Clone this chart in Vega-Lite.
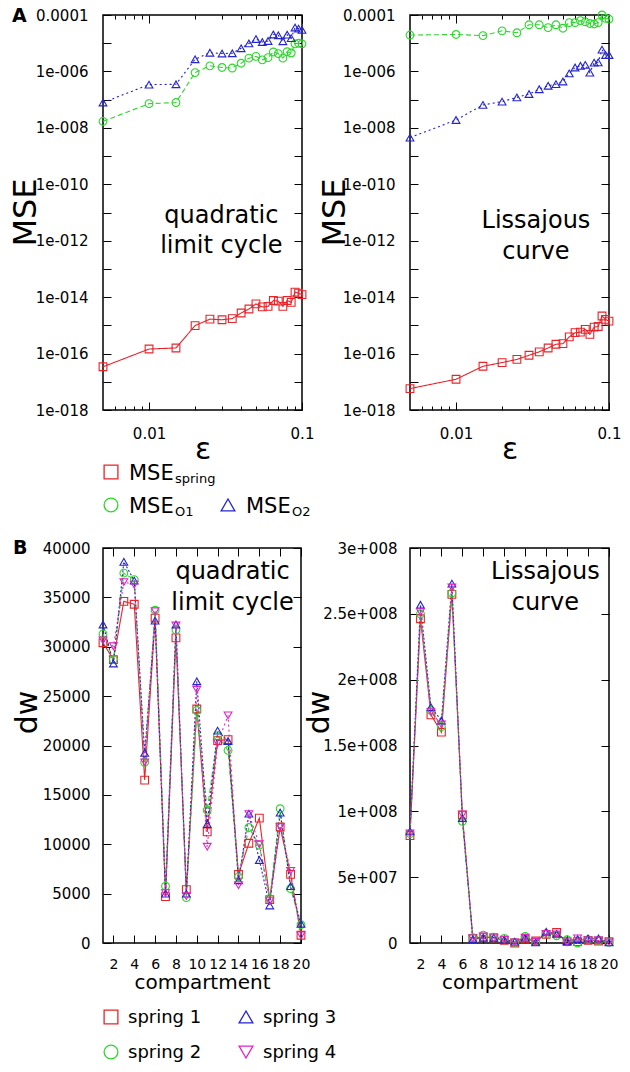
{
"$schema": "https://vega.github.io/schema/vega-lite/v6.json",
"background": "white",
"padding": {"left": 8, "top": 6, "right": 2, "bottom": 2},
"columns": 2,
"spacing": {"row": 30, "column": 108},
"bounds": "flush",
"resolve": {
 "scale": {"color": "independent", "stroke": "independent", "shape": "independent", "strokeDash": "independent"},
 "legend": {"color": "independent", "stroke": "independent", "shape": "independent", "strokeDash": "independent"}
},
"config": {
 "font": "DejaVu Sans",
 "view": {"stroke": "black", "strokeWidth": 1.5},
 "point": {"opacity": 1},
 "axis": {"labelFont": "DejaVu Sans", "labelFontSize": 15, "labelColor": "black", "tickColor": "black", "tickWidth": 1, "titleFont": "DejaVu Sans", "titleFontWeight": "normal", "titleColor": "black", "grid": false, "domain": false, "labelFlush": false, "labelOverlap": false},
 "title": {"font": "DejaVu Sans", "color": "black"},
 "text": {"font": "DejaVu Sans"}
},
"datasets": {
 "quadA": [
  {"eps":0.005,"series":"spring","mse":3.4e-17},{"eps":0.01,"series":"spring","mse":1.45e-16},{"eps":0.015,"series":"spring","mse":1.58e-16},{"eps":0.02,"series":"spring","mse":9.8e-16},{"eps":0.025,"series":"spring","mse":1.66e-15},{"eps":0.03,"series":"spring","mse":1.58e-15},{"eps":0.035,"series":"spring","mse":1.74e-15},{"eps":0.04,"series":"spring","mse":2.75e-15},{"eps":0.045,"series":"spring","mse":3.8e-15},{"eps":0.05,"series":"spring","mse":5.75e-15},{"eps":0.055,"series":"spring","mse":4.5e-15},{"eps":0.06,"series":"spring","mse":4.7e-15},{"eps":0.065,"series":"spring","mse":7.6e-15},{"eps":0.07,"series":"spring","mse":7.2e-15},{"eps":0.075,"series":"spring","mse":4.7e-15},{"eps":0.08,"series":"spring","mse":7.6e-15},{"eps":0.085,"series":"spring","mse":6.5e-15},{"eps":0.09,"series":"spring","mse":1.51e-14},{"eps":0.095,"series":"spring","mse":1.38e-14},{"eps":0.1,"series":"spring","mse":1.23e-14},
  {"eps":0.005,"series":"O1","mse":1.7e-8},{"eps":0.01,"series":"O1","mse":7.2e-8},{"eps":0.015,"series":"O1","mse":7.9e-8},{"eps":0.02,"series":"O1","mse":9.1e-7},{"eps":0.025,"series":"O1","mse":1.58e-6},{"eps":0.03,"series":"O1","mse":1.38e-6},{"eps":0.035,"series":"O1","mse":1.32e-6},{"eps":0.04,"series":"O1","mse":1.95e-6},{"eps":0.045,"series":"O1","mse":2.95e-6},{"eps":0.05,"series":"O1","mse":3.4e-6},{"eps":0.055,"series":"O1","mse":2.57e-6},{"eps":0.06,"series":"O1","mse":3.1e-6},{"eps":0.065,"series":"O1","mse":4.9e-6},{"eps":0.07,"series":"O1","mse":4.3e-6},{"eps":0.075,"series":"O1","mse":2.95e-6},{"eps":0.08,"series":"O1","mse":5.0e-6},{"eps":0.085,"series":"O1","mse":4.5e-6},{"eps":0.09,"series":"O1","mse":9.5e-6},{"eps":0.095,"series":"O1","mse":1.0e-5},{"eps":0.1,"series":"O1","mse":9.5e-6},
  {"eps":0.005,"series":"O2","mse":7.9e-8},{"eps":0.01,"series":"O2","mse":3.4e-7},{"eps":0.015,"series":"O2","mse":3.5e-7},{"eps":0.02,"series":"O2","mse":2.7e-6},{"eps":0.025,"series":"O2","mse":4.6e-6},{"eps":0.03,"series":"O2","mse":4.3e-6},{"eps":0.035,"series":"O2","mse":4.4e-6},{"eps":0.04,"series":"O2","mse":6.6e-6},{"eps":0.045,"series":"O2","mse":9.8e-6},{"eps":0.05,"series":"O2","mse":1.41e-5},{"eps":0.055,"series":"O2","mse":1.1e-5},{"eps":0.06,"series":"O2","mse":1.2e-5},{"eps":0.065,"series":"O2","mse":2.04e-5},{"eps":0.07,"series":"O2","mse":1.91e-5},{"eps":0.075,"series":"O2","mse":1.17e-5},{"eps":0.08,"series":"O2","mse":2.0e-5},{"eps":0.085,"series":"O2","mse":1.51e-5},{"eps":0.09,"series":"O2","mse":3.6e-5},{"eps":0.095,"series":"O2","mse":3.3e-5},{"eps":0.1,"series":"O2","mse":2.95e-5}
 ],
 "lissA": [
  {"eps":0.005,"series":"spring","mse":5.75e-18},{"eps":0.01,"series":"spring","mse":1.23e-17},{"eps":0.015,"series":"spring","mse":3.55e-17},{"eps":0.02,"series":"spring","mse":4.8e-17},{"eps":0.025,"series":"spring","mse":6.2e-17},{"eps":0.03,"series":"spring","mse":8.7e-17},{"eps":0.035,"series":"spring","mse":1.15e-16},{"eps":0.04,"series":"spring","mse":1.58e-16},{"eps":0.045,"series":"spring","mse":2.14e-16},{"eps":0.05,"series":"spring","mse":2.24e-16},{"eps":0.055,"series":"spring","mse":3.9e-16},{"eps":0.06,"series":"spring","mse":5.5e-16},{"eps":0.065,"series":"spring","mse":5.75e-16},{"eps":0.07,"series":"spring","mse":7.2e-16},{"eps":0.075,"series":"spring","mse":4.8e-16},{"eps":0.08,"series":"spring","mse":8.7e-16},{"eps":0.085,"series":"spring","mse":9.1e-16},{"eps":0.09,"series":"spring","mse":2.14e-15},{"eps":0.095,"series":"spring","mse":1.62e-15},{"eps":0.1,"series":"spring","mse":1.41e-15},
  {"eps":0.005,"series":"O1","mse":1.95e-5},{"eps":0.01,"series":"O1","mse":2.04e-5},{"eps":0.015,"series":"O1","mse":1.86e-5},{"eps":0.02,"series":"O1","mse":2.75e-5},{"eps":0.025,"series":"O1","mse":2.34e-5},{"eps":0.03,"series":"O1","mse":4.5e-5},{"eps":0.035,"series":"O1","mse":4.5e-5},{"eps":0.04,"series":"O1","mse":3.55e-5},{"eps":0.045,"series":"O1","mse":4.5e-5},{"eps":0.05,"series":"O1","mse":3.4e-5},{"eps":0.055,"series":"O1","mse":5.4e-5},{"eps":0.06,"series":"O1","mse":5.4e-5},{"eps":0.065,"series":"O1","mse":6.3e-5},{"eps":0.07,"series":"O1","mse":5.75e-5},{"eps":0.075,"series":"O1","mse":5.0e-5},{"eps":0.08,"series":"O1","mse":4.8e-5},{"eps":0.085,"series":"O1","mse":5.4e-5},{"eps":0.09,"series":"O1","mse":1.0e-4},{"eps":0.095,"series":"O1","mse":7.6e-5},{"eps":0.1,"series":"O1","mse":7.1e-5},
  {"eps":0.005,"series":"O2","mse":4.5e-9},{"eps":0.01,"series":"O2","mse":1.9e-8},{"eps":0.015,"series":"O2","mse":6.5e-8},{"eps":0.02,"series":"O2","mse":8.5e-8},{"eps":0.025,"series":"O2","mse":1.2e-7},{"eps":0.03,"series":"O2","mse":1.58e-7},{"eps":0.035,"series":"O2","mse":2.34e-7},{"eps":0.04,"series":"O2","mse":3.1e-7},{"eps":0.045,"series":"O2","mse":3.55e-7},{"eps":0.05,"series":"O2","mse":4.4e-7},{"eps":0.055,"series":"O2","mse":8.5e-7},{"eps":0.06,"series":"O2","mse":1.38e-6},{"eps":0.065,"series":"O2","mse":1.58e-6},{"eps":0.07,"series":"O2","mse":1.7e-6},{"eps":0.075,"series":"O2","mse":9.1e-7},{"eps":0.08,"series":"O2","mse":2.04e-6},{"eps":0.085,"series":"O2","mse":2.1e-6},{"eps":0.09,"series":"O2","mse":5.9e-6},{"eps":0.095,"series":"O2","mse":3.8e-6},{"eps":0.1,"series":"O2","mse":3.8e-6}
 ],
 "quadB": [
  {"c":1,"spring":"spring 1","dw":30400},{"c":2,"spring":"spring 1","dw":28700},{"c":3,"spring":"spring 1","dw":34600},{"c":4,"spring":"spring 1","dw":34300},{"c":5,"spring":"spring 1","dw":16500},{"c":6,"spring":"spring 1","dw":32900},{"c":7,"spring":"spring 1","dw":4700},{"c":8,"spring":"spring 1","dw":30900},{"c":9,"spring":"spring 1","dw":5400},{"c":10,"spring":"spring 1","dw":23700},{"c":11,"spring":"spring 1","dw":11250},{"c":12,"spring":"spring 1","dw":20500},{"c":13,"spring":"spring 1","dw":20600},{"c":14,"spring":"spring 1","dw":6950},{"c":15,"spring":"spring 1","dw":10100},{"c":16,"spring":"spring 1","dw":12650},{"c":17,"spring":"spring 1","dw":4400},{"c":18,"spring":"spring 1","dw":11750},{"c":19,"spring":"spring 1","dw":6950},{"c":20,"spring":"spring 1","dw":780},
  {"c":1,"spring":"spring 2","dw":31300},{"c":2,"spring":"spring 2","dw":28700},{"c":3,"spring":"spring 2","dw":37450},{"c":4,"spring":"spring 2","dw":36800},{"c":5,"spring":"spring 2","dw":18300},{"c":6,"spring":"spring 2","dw":33700},{"c":7,"spring":"spring 2","dw":5750},{"c":8,"spring":"spring 2","dw":31700},{"c":9,"spring":"spring 2","dw":4600},{"c":10,"spring":"spring 2","dw":23550},{"c":11,"spring":"spring 2","dw":13450},{"c":12,"spring":"spring 2","dw":21000},{"c":13,"spring":"spring 2","dw":19500},{"c":14,"spring":"spring 2","dw":6700},{"c":15,"spring":"spring 2","dw":11700},{"c":16,"spring":"spring 2","dw":9900},{"c":17,"spring":"spring 2","dw":4500},{"c":18,"spring":"spring 2","dw":13600},{"c":19,"spring":"spring 2","dw":5500},{"c":20,"spring":"spring 2","dw":1850},
  {"c":1,"spring":"spring 3","dw":32250},{"c":2,"spring":"spring 3","dw":28300},{"c":3,"spring":"spring 3","dw":38600},{"c":4,"spring":"spring 3","dw":36700},{"c":5,"spring":"spring 3","dw":19250},{"c":6,"spring":"spring 3","dw":32650},{"c":7,"spring":"spring 3","dw":5000},{"c":8,"spring":"spring 3","dw":32250},{"c":9,"spring":"spring 3","dw":5000},{"c":10,"spring":"spring 3","dw":26500},{"c":11,"spring":"spring 3","dw":12050},{"c":12,"spring":"spring 3","dw":21500},{"c":13,"spring":"spring 3","dw":20450},{"c":14,"spring":"spring 3","dw":6350},{"c":15,"spring":"spring 3","dw":13100},{"c":16,"spring":"spring 3","dw":8400},{"c":17,"spring":"spring 3","dw":3800},{"c":18,"spring":"spring 3","dw":13200},{"c":19,"spring":"spring 3","dw":5750},{"c":20,"spring":"spring 3","dw":1950},
  {"c":1,"spring":"spring 4","dw":30650},{"c":2,"spring":"spring 4","dw":30050},{"c":3,"spring":"spring 4","dw":36550},{"c":4,"spring":"spring 4","dw":36300},{"c":5,"spring":"spring 4","dw":18300},{"c":6,"spring":"spring 4","dw":33600},{"c":7,"spring":"spring 4","dw":5050},{"c":8,"spring":"spring 4","dw":32150},{"c":9,"spring":"spring 4","dw":4750},{"c":10,"spring":"spring 4","dw":25650},{"c":11,"spring":"spring 4","dw":9750},{"c":12,"spring":"spring 4","dw":20250},{"c":13,"spring":"spring 4","dw":23050},{"c":14,"spring":"spring 4","dw":5850},{"c":15,"spring":"spring 4","dw":13050},{"c":16,"spring":"spring 4","dw":10000},{"c":17,"spring":"spring 4","dw":4250},{"c":18,"spring":"spring 4","dw":11750},{"c":19,"spring":"spring 4","dw":7300},{"c":20,"spring":"spring 4","dw":780}
 ],
 "lissB": [
  {"c":1,"spring":"spring 1","dw":81600000},{"c":2,"spring":"spring 1","dw":246300000},{"c":3,"spring":"spring 1","dw":173300000},{"c":4,"spring":"spring 1","dw":160100000},{"c":5,"spring":"spring 1","dw":264800000},{"c":6,"spring":"spring 1","dw":97200000},{"c":7,"spring":"spring 1","dw":3500000},{"c":8,"spring":"spring 1","dw":4500000},{"c":9,"spring":"spring 1","dw":4000000},{"c":10,"spring":"spring 1","dw":2000000},{"c":11,"spring":"spring 1","dw":0},{"c":12,"spring":"spring 1","dw":3000000},{"c":13,"spring":"spring 1","dw":1500000},{"c":14,"spring":"spring 1","dw":6500000},{"c":15,"spring":"spring 1","dw":8000000},{"c":16,"spring":"spring 1","dw":1000000},{"c":17,"spring":"spring 1","dw":1000000},{"c":18,"spring":"spring 1","dw":2000000},{"c":19,"spring":"spring 1","dw":1500000},{"c":20,"spring":"spring 1","dw":1000000},
  {"c":1,"spring":"spring 2","dw":83000000},{"c":2,"spring":"spring 2","dw":250000000},{"c":3,"spring":"spring 2","dw":176600000},{"c":4,"spring":"spring 2","dw":164400000},{"c":5,"spring":"spring 2","dw":265800000},{"c":6,"spring":"spring 2","dw":92400000},{"c":7,"spring":"spring 2","dw":4000000},{"c":8,"spring":"spring 2","dw":6000000},{"c":9,"spring":"spring 2","dw":4500000},{"c":10,"spring":"spring 2","dw":3500000},{"c":11,"spring":"spring 2","dw":500000},{"c":12,"spring":"spring 2","dw":5000000},{"c":13,"spring":"spring 2","dw":1000000},{"c":14,"spring":"spring 2","dw":7000000},{"c":15,"spring":"spring 2","dw":5500000},{"c":16,"spring":"spring 2","dw":2500000},{"c":17,"spring":"spring 2","dw":0},{"c":18,"spring":"spring 2","dw":2500000},{"c":19,"spring":"spring 2","dw":2000000},{"c":20,"spring":"spring 2","dw":500000},
  {"c":1,"spring":"spring 3","dw":84800000},{"c":2,"spring":"spring 3","dw":256900000},{"c":3,"spring":"spring 3","dw":179100000},{"c":4,"spring":"spring 3","dw":169000000},{"c":5,"spring":"spring 3","dw":272900000},{"c":6,"spring":"spring 3","dw":94900000},{"c":7,"spring":"spring 3","dw":3000000},{"c":8,"spring":"spring 3","dw":4000000},{"c":9,"spring":"spring 3","dw":4000000},{"c":10,"spring":"spring 3","dw":2500000},{"c":11,"spring":"spring 3","dw":1000000},{"c":12,"spring":"spring 3","dw":4000000},{"c":13,"spring":"spring 3","dw":500000},{"c":14,"spring":"spring 3","dw":8500000},{"c":15,"spring":"spring 3","dw":7000000},{"c":16,"spring":"spring 3","dw":1500000},{"c":17,"spring":"spring 3","dw":3000000},{"c":18,"spring":"spring 3","dw":3500000},{"c":19,"spring":"spring 3","dw":3500000},{"c":20,"spring":"spring 3","dw":500000},
  {"c":1,"spring":"spring 4","dw":83300000},{"c":2,"spring":"spring 4","dw":251300000},{"c":3,"spring":"spring 4","dw":175300000},{"c":4,"spring":"spring 4","dw":166000000},{"c":5,"spring":"spring 4","dw":270000000},{"c":6,"spring":"spring 4","dw":97500000},{"c":7,"spring":"spring 4","dw":3500000},{"c":8,"spring":"spring 4","dw":5000000},{"c":9,"spring":"spring 4","dw":3500000},{"c":10,"spring":"spring 4","dw":2500000},{"c":11,"spring":"spring 4","dw":500000},{"c":12,"spring":"spring 4","dw":4000000},{"c":13,"spring":"spring 4","dw":1000000},{"c":14,"spring":"spring 4","dw":7000000},{"c":15,"spring":"spring 4","dw":6500000},{"c":16,"spring":"spring 4","dw":500000},{"c":17,"spring":"spring 4","dw":3500000},{"c":18,"spring":"spring 4","dw":2000000},{"c":19,"spring":"spring 4","dw":2000000},{"c":20,"spring":"spring 4","dw":500000}
 ],
 "legendA": [
  {"series":"spring","label":"MSE","sub":"spring","col":1,"row":1},
  {"series":"O1","label":"MSE","sub":"O1","col":1,"row":2},
  {"series":"O2","label":"MSE","sub":"O2","col":2,"row":2}
 ],
 "legendB": [
  {"spring":"spring 1","col":1,"row":1},
  {"spring":"spring 3","col":2,"row":1},
  {"spring":"spring 2","col":1,"row":2},
  {"spring":"spring 4","col":2,"row":2}
 ]
},
"concat": [
 {
  "width": 199, "height": 395,
  "title": {"text": "A", "anchor": "start", "frame": "group", "fontSize": 19, "fontWeight": "bold", "dx": -91, "dy": 33, "offset": 0, "baseline": "alphabetic"},
  "data": {"name": "quadA"},
  "resolve": {"axis": {"x": "independent", "y": "independent"}},
  "layer": [
   {"mark": {"type": "line", "strokeWidth": 1.1},
    "encoding": {
     "x": {"field": "eps", "type": "quantitative", "scale": {"type": "log", "domain": [0.005, 0.1], "nice": false},
       "axis": {"orient": "bottom", "values": [0.006,0.007,0.008,0.009,0.01,0.02,0.03,0.04,0.05,0.06,0.07,0.08,0.09,0.1], "tickSize": {"condition": {"test": "datum.value == 0.01 || datum.value == 0.1", "value": -8}, "value": -4}, "labelPadding": 24, "labelExpr": "datum.value == 0.01 ? '0.01' : datum.value == 0.1 ? '0.1' : ''", "title": "ε", "titleFontSize": 30, "titleY": 48, "titleBaseline": "alphabetic"}},
     "y": {"field": "mse", "type": "quantitative", "scale": {"type": "log", "domain": [1e-18, 1e-4], "nice": false},
       "axis": {"orient": "left", "values": [1e-18,1e-17,1e-16,1e-15,1e-14,1e-13,1e-12,1e-11,1e-10,1e-9,1e-8,1e-7,1e-6,1e-5,1e-4], "tickSize": -8, "labelPadding": 23, "labelExpr": "(round(log(datum.value)/LN10) % 2 != 0) ? '' : (datum.value > 5e-5 ? '0.0001' : '1e-0' + (abs(round(log(datum.value)/LN10)) < 10 ? '0' : '') + abs(round(log(datum.value)/LN10)))", "title": "MSE", "titleFontSize": 32, "titleX": -68, "titleY": 197, "titleBaseline": "alphabetic"}},
     "color": {"field": "series", "type": "nominal", "scale": {"domain": ["spring", "O1", "O2"], "range": ["#e8242a", "#2ad82a", "#2424d0"]}, "legend": null},
     "strokeDash": {"field": "series", "type": "nominal", "scale": {"domain": ["spring", "O1", "O2"], "range": [[1, 0], [5, 3], [2, 3]]}, "legend": null}
    }},
   {"mark": {"type": "point", "filled": false, "size": 60, "strokeWidth": 1.1, "opacity": 1},
    "encoding": {
     "x": {"field": "eps", "type": "quantitative", "axis": {"orient": "top", "values": [0.006,0.007,0.008,0.009,0.01,0.02,0.03,0.04,0.05,0.06,0.07,0.08,0.09,0.1], "tickSize": {"condition": {"test": "datum.value == 0.01 || datum.value == 0.1", "value": -8}, "value": -4}, "labels": false, "title": null}},
     "y": {"field": "mse", "type": "quantitative", "axis": {"orient": "right", "values": [1e-18,1e-17,1e-16,1e-15,1e-14,1e-13,1e-12,1e-11,1e-10,1e-9,1e-8,1e-7,1e-6,1e-5,1e-4], "tickSize": -8, "labels": false, "title": null}},
     "stroke": {"field": "series", "type": "nominal", "scale": {"domain": ["spring", "O1", "O2"], "range": ["#e8242a", "#2ad82a", "#2424d0"]}, "legend": null},
     "shape": {"field": "series", "type": "nominal", "scale": {"domain": ["spring", "O1", "O2"], "range": ["square", "circle", "triangle-up"]}, "legend": null}
    }},
   {"data": {"values": [{}]},
    "mark": {"type": "text", "fontSize": 24, "align": "center", "baseline": "alphabetic", "lineHeight": 30, "color": "black"},
    "encoding": {
     "x": {"datum": 0.0297, "type": "quantitative", "axis": null},
     "y": {"datum": 4.3e-12, "type": "quantitative", "axis": null},
     "text": {"value": ["quadratic", "limit cycle"]}
    }}
  ]
 },
 {
  "width": 199, "height": 395,
  "data": {"name": "lissA"},
  "resolve": {"axis": {"x": "independent", "y": "independent"}},
  "layer": [
   {"mark": {"type": "line", "strokeWidth": 1.1},
    "encoding": {
     "x": {"field": "eps", "type": "quantitative", "scale": {"type": "log", "domain": [0.005, 0.1], "nice": false},
       "axis": {"orient": "bottom", "values": [0.006,0.007,0.008,0.009,0.01,0.02,0.03,0.04,0.05,0.06,0.07,0.08,0.09,0.1], "tickSize": {"condition": {"test": "datum.value == 0.01 || datum.value == 0.1", "value": -8}, "value": -4}, "labelPadding": 24, "labelExpr": "datum.value == 0.01 ? '0.01' : datum.value == 0.1 ? '0.1' : ''", "title": "ε", "titleFontSize": 30, "titleY": 48, "titleBaseline": "alphabetic"}},
     "y": {"field": "mse", "type": "quantitative", "scale": {"type": "log", "domain": [1e-18, 1e-4], "nice": false},
       "axis": {"orient": "left", "values": [1e-18,1e-17,1e-16,1e-15,1e-14,1e-13,1e-12,1e-11,1e-10,1e-9,1e-8,1e-7,1e-6,1e-5,1e-4], "tickSize": -8, "labelPadding": 23, "labelExpr": "(round(log(datum.value)/LN10) % 2 != 0) ? '' : (datum.value > 5e-5 ? '0.0001' : '1e-0' + (abs(round(log(datum.value)/LN10)) < 10 ? '0' : '') + abs(round(log(datum.value)/LN10)))", "title": "MSE", "titleFontSize": 32, "titleX": -66, "titleY": 197, "titleBaseline": "alphabetic"}},
     "color": {"field": "series", "type": "nominal", "scale": {"domain": ["spring", "O1", "O2"], "range": ["#e8242a", "#2ad82a", "#2424d0"]}, "legend": null},
     "strokeDash": {"field": "series", "type": "nominal", "scale": {"domain": ["spring", "O1", "O2"], "range": [[1, 0], [5, 3], [2, 3]]}, "legend": null}
    }},
   {"mark": {"type": "point", "filled": false, "size": 60, "strokeWidth": 1.1, "opacity": 1},
    "encoding": {
     "x": {"field": "eps", "type": "quantitative", "axis": {"orient": "top", "values": [0.006,0.007,0.008,0.009,0.01,0.02,0.03,0.04,0.05,0.06,0.07,0.08,0.09,0.1], "tickSize": {"condition": {"test": "datum.value == 0.01 || datum.value == 0.1", "value": -8}, "value": -4}, "labels": false, "title": null}},
     "y": {"field": "mse", "type": "quantitative", "axis": {"orient": "right", "values": [1e-18,1e-17,1e-16,1e-15,1e-14,1e-13,1e-12,1e-11,1e-10,1e-9,1e-8,1e-7,1e-6,1e-5,1e-4], "tickSize": -8, "labels": false, "title": null}},
     "stroke": {"field": "series", "type": "nominal", "scale": {"domain": ["spring", "O1", "O2"], "range": ["#e8242a", "#2ad82a", "#2424d0"]}, "legend": null},
     "shape": {"field": "series", "type": "nominal", "scale": {"domain": ["spring", "O1", "O2"], "range": ["square", "circle", "triangle-up"]}, "legend": null}
    }},
   {"data": {"values": [{}]},
    "mark": {"type": "text", "fontSize": 24, "align": "center", "baseline": "alphabetic", "lineHeight": 31, "color": "black"},
    "encoding": {
     "x": {"datum": 0.0333, "type": "quantitative", "axis": null},
     "y": {"datum": 2.8e-12, "type": "quantitative", "axis": null},
     "text": {"value": ["Lissajous", "curve"]}
    }}
  ]
 },
 {
  "width": 199, "height": 78, "view": {"stroke": null},
  "data": {"name": "legendA"},
  "encoding": {
   "x": {"field": "col", "type": "quantitative", "scale": {"domain": [0.93162, 2.63248], "nice": false, "zero": false}, "axis": null},
   "y": {"field": "row", "type": "quantitative", "scale": {"domain": [0.0303, 2.3939], "nice": false, "zero": false, "reverse": true}, "axis": null}
  },
  "layer": [
   {"mark": {"type": "point", "filled": false, "size": 190, "strokeWidth": 1.3, "opacity": 1},
    "encoding": {
     "stroke": {"field": "series", "type": "nominal", "scale": {"domain": ["spring", "O1", "O2"], "range": ["#e8242a", "#2ad82a", "#2424d0"]}, "legend": null},
     "shape": {"field": "series", "type": "nominal", "scale": {"domain": ["spring", "O1", "O2"], "range": ["square", "circle", "triangle-up"]}, "legend": null}
    }},
   {"mark": {"type": "text", "align": "left", "baseline": "alphabetic", "dx": 18, "dy": 8, "fontSize": 21, "color": "black"},
    "encoding": {"text": {"field": "label"}}},
   {"mark": {"type": "text", "align": "left", "baseline": "alphabetic", "dx": 64, "dy": 11, "fontSize": 13, "color": "black"},
    "encoding": {"text": {"field": "sub"}}}
  ]
 },
 {
  "width": 199, "height": 78, "view": {"stroke": null},
  "data": {"values": []},
  "mark": {"type": "point"}
 },
 {
  "width": 198, "height": 395,
  "title": {"text": "B", "anchor": "start", "frame": "group", "fontSize": 19, "fontWeight": "bold", "dx": -90, "dy": 32, "offset": 0, "baseline": "alphabetic"},
  "data": {"name": "quadB"},
  "resolve": {"axis": {"x": "independent", "y": "independent"}},
  "layer": [
   {"mark": {"type": "line", "strokeWidth": 1.1},
    "encoding": {
     "x": {"field": "c", "type": "quantitative", "scale": {"domain": [1, 20], "nice": false, "zero": false},
       "axis": {"orient": "bottom", "values": [2,4,6,8,10,12,14,16,18,20], "tickSize": -8, "labelPadding": 22, "labelFontSize": 14, "title": "compartment", "titleFontSize": 20, "titleY": 45, "titleBaseline": "alphabetic"}},
     "y": {"field": "dw", "type": "quantitative", "scale": {"domain": [0, 40000], "nice": false},
       "axis": {"orient": "left", "values": [0,5000,10000,15000,20000,25000,30000,35000,40000], "format": "d", "tickSize": -8, "labelPadding": 21, "title": "dw", "titleFontSize": 30, "titleX": -67, "titleY": 164, "titleBaseline": "alphabetic"}},
     "color": {"field": "spring", "type": "nominal", "scale": {"domain": ["spring 1", "spring 2", "spring 3", "spring 4"], "range": ["#e8242a", "#2ad82a", "#2424d0", "#e024c8"]}, "legend": null},
     "strokeDash": {"field": "spring", "type": "nominal", "scale": {"domain": ["spring 1", "spring 2", "spring 3", "spring 4"], "range": [[1, 0], [5, 3], [2, 2], [2, 3]]}, "legend": null}
    }},
   {"mark": {"type": "point", "filled": false, "size": 60, "strokeWidth": 1.1, "opacity": 1},
    "encoding": {
     "x": {"field": "c", "type": "quantitative", "axis": {"orient": "top", "values": [2,4,6,8,10,12,14,16,18,20], "tickSize": -8, "labels": false, "title": null}},
     "y": {"field": "dw", "type": "quantitative", "axis": {"orient": "right", "values": [0,5000,10000,15000,20000,25000,30000,35000,40000], "tickSize": -8, "labels": false, "title": null}},
     "stroke": {"field": "spring", "type": "nominal", "scale": {"domain": ["spring 1", "spring 2", "spring 3", "spring 4"], "range": ["#e8242a", "#2ad82a", "#2424d0", "#e024c8"]}, "legend": null},
     "shape": {"field": "spring", "type": "nominal", "scale": {"domain": ["spring 1", "spring 2", "spring 3", "spring 4"], "range": ["square", "circle", "triangle-up", "triangle-down"]}, "legend": null}
    }},
   {"data": {"values": [{}]},
    "mark": {"type": "text", "fontSize": 24, "align": "center", "baseline": "alphabetic", "lineHeight": 31, "color": "black"},
    "encoding": {
     "x": {"datum": 13.43, "type": "quantitative", "axis": null},
     "y": {"datum": 36860, "type": "quantitative", "axis": null},
     "text": {"value": ["quadratic", "limit cycle"]}
    }}
  ]
 },
 {
  "width": 199, "height": 395,
  "data": {"name": "lissB"},
  "resolve": {"axis": {"x": "independent", "y": "independent"}},
  "layer": [
   {"mark": {"type": "line", "strokeWidth": 1.1},
    "encoding": {
     "x": {"field": "c", "type": "quantitative", "scale": {"domain": [1, 20], "nice": false, "zero": false},
       "axis": {"orient": "bottom", "values": [2,4,6,8,10,12,14,16,18,20], "tickSize": -8, "labelPadding": 22, "labelFontSize": 14, "title": "compartment", "titleFontSize": 20, "titleY": 45, "titleBaseline": "alphabetic"}},
     "y": {"field": "dw", "type": "quantitative", "scale": {"domain": [0, 300000000], "nice": false},
       "axis": {"orient": "left", "values": [0,50000000,100000000,150000000,200000000,250000000,300000000], "tickSize": -8, "labelPadding": 21, "labelExpr": "datum.value == 0 ? '0' : datum.value == 5e7 ? '5e+007' : datum.value == 1e8 ? '1e+008' : datum.value == 1.5e8 ? '1.5e+008' : datum.value == 2e8 ? '2e+008' : datum.value == 2.5e8 ? '2.5e+008' : '3e+008'", "title": "dw", "titleFontSize": 30, "titleX": -82, "titleY": 164, "titleBaseline": "alphabetic"}},
     "color": {"field": "spring", "type": "nominal", "scale": {"domain": ["spring 1", "spring 2", "spring 3", "spring 4"], "range": ["#e8242a", "#2ad82a", "#2424d0", "#e024c8"]}, "legend": null},
     "strokeDash": {"field": "spring", "type": "nominal", "scale": {"domain": ["spring 1", "spring 2", "spring 3", "spring 4"], "range": [[1, 0], [5, 3], [2, 2], [2, 3]]}, "legend": null}
    }},
   {"mark": {"type": "point", "filled": false, "size": 60, "strokeWidth": 1.1, "opacity": 1},
    "encoding": {
     "x": {"field": "c", "type": "quantitative", "axis": {"orient": "top", "values": [2,4,6,8,10,12,14,16,18,20], "tickSize": -8, "labels": false, "title": null}},
     "y": {"field": "dw", "type": "quantitative", "axis": {"orient": "right", "values": [0,50000000,100000000,150000000,200000000,250000000,300000000], "tickSize": -8, "labels": false, "title": null}},
     "stroke": {"field": "spring", "type": "nominal", "scale": {"domain": ["spring 1", "spring 2", "spring 3", "spring 4"], "range": ["#e8242a", "#2ad82a", "#2424d0", "#e024c8"]}, "legend": null},
     "shape": {"field": "spring", "type": "nominal", "scale": {"domain": ["spring 1", "spring 2", "spring 3", "spring 4"], "range": ["square", "circle", "triangle-up", "triangle-down"]}, "legend": null}
    }},
   {"data": {"values": [{}]},
    "mark": {"type": "text", "fontSize": 24, "align": "center", "baseline": "alphabetic", "lineHeight": 31, "color": "black"},
    "encoding": {
     "x": {"datum": 13.92, "type": "quantitative", "axis": null},
     "y": {"datum": 276500000, "type": "quantitative", "axis": null},
     "text": {"value": ["Lissajous", "curve"]}
    }}
  ]
 },
 {
  "width": 198, "height": 90, "view": {"stroke": null},
  "data": {"name": "legendB"},
  "encoding": {
   "x": {"field": "col", "type": "quantitative", "scale": {"domain": [0.94074, 2.40741], "nice": false, "zero": false}, "axis": null},
   "y": {"field": "row", "type": "quantitative", "scale": {"domain": [-0.25714, 2.31429], "nice": false, "zero": false, "reverse": true}, "axis": null}
  },
  "layer": [
   {"mark": {"type": "point", "filled": false, "size": 190, "strokeWidth": 1.3, "opacity": 1},
    "encoding": {
     "stroke": {"field": "spring", "type": "nominal", "scale": {"domain": ["spring 1", "spring 2", "spring 3", "spring 4"], "range": ["#e8242a", "#2ad82a", "#2424d0", "#e024c8"]}, "legend": null},
     "shape": {"field": "spring", "type": "nominal", "scale": {"domain": ["spring 1", "spring 2", "spring 3", "spring 4"], "range": ["square", "circle", "triangle-up", "triangle-down"]}, "legend": null}
    }},
   {"mark": {"type": "text", "align": "left", "baseline": "alphabetic", "dx": 17, "dy": 6, "fontSize": 18, "color": "black"},
    "encoding": {"text": {"field": "spring"}}}
  ]
 }
]
}
